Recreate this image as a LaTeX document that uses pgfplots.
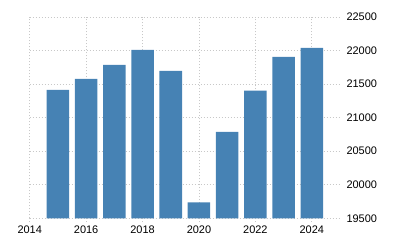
\documentclass[border=0pt]{standalone}
\usepackage{fontspec}
\setmainfont{Liberation Sans}
\usepackage{pgfplots}
\pgfplotsset{compat=1.18}
\definecolor{barblue}{HTML}{4682B4}
\definecolor{gridgray}{HTML}{C8C8C8}
\begin{document}
\begin{tikzpicture}
\begin{axis}[
  at={(0,0)}, anchor=south west,
  scale only axis, width=310.3bp, height=201.3bp,
  xmin=2014, xmax=2025, ymin=19500, ymax=22500,
  xtick={2014,2016,...,2024},
  ytick={19500,20000,...,22500},
  scaled y ticks=false,
  axis line style={draw=none},
  grid=major,
  major grid style={draw=gridgray, line width=0.8bp, dash pattern=on 1bp off 2bp},
  xtick style={draw=gridgray, line width=0.8bp, dash pattern=on 1bp off 2bp},
  ytick style={draw=none},
  major tick length=4bp,
  tick align=outside,
  xtick pos=lower,
  yticklabel pos=right,
  /pgf/number format/1000 sep={},
  /pgf/number format/fixed,
  /pgf/number format/assume math mode=true,
  ticklabel style={font=\fontsize{11}{13}\selectfont, text=black},
  yticklabel style={anchor=west, xshift=-1bp, /pgf/number format/fixed, /pgf/number format/precision=0},
  xticklabel style={yshift=-0.5bp},
]
\addplot[ybar, bar width=0.8, fill=barblue, draw=none] coordinates {
  (2015,21414) (2016,21578) (2017,21786) (2018,22009) (2019,21697)
  (2020,19738) (2021,20789) (2022,21404) (2023,21905) (2024,22039)
};
\end{axis}
\path[use as bounding box] (-29.7bp,-31.7bp) rectangle (370.3bp,218.3bp);
\end{tikzpicture}
\end{document}
